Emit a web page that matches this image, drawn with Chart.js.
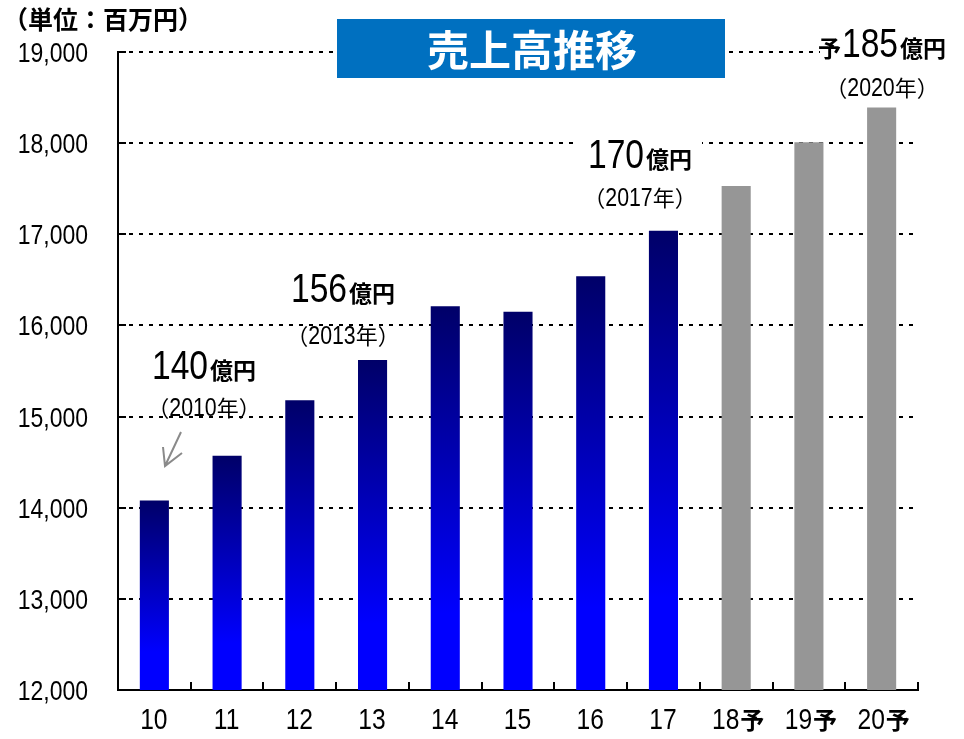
<!DOCTYPE html>
<html>
<head>
<meta charset="utf-8">
<script src="https://cdn.jsdelivr.net/npm/chart.js@4/dist/chart.umd.min.js"></script>
<style>
  html, body { margin: 0; padding: 0; background: #fff; }
  #wrap { width: 964px; height: 739px; }
</style>
</head>
<body>
<div id="wrap"><canvas id="salesChart" width="964" height="739"></canvas></div>
<script>
const labels = ["10", "11", "12", "13", "14", "15", "16", "17", "18予", "19予", "20予"]
const sales = [14080, 14570, 15180, 15620, 16210, 16150, 16540, 17040, 17530, 18010, 18390]
const yTicks = [12000, 13000, 14000, 15000, 16000, 17000, 18000, 19000]

const SANS = "'Liberation Sans', Arial, sans-serif"
const CJK = "'Noto Sans CJK JP', sans-serif"
const SQUEEZE = 0.82

// call-outs: big number + 億円, year below (baseline / centre in px)
const notes = [
    {pre: "", num: "140", year: "2010", x: 204, base: 379, yy: 407},
    {pre: "", num: "156", year: "2013", x: 343, base: 302, yy: 335},
    {pre: "", num: "170", year: "2017", x: 640, base: 168, yy: 197, bg: true},
    {pre: "予", num: "185", year: "2020", x: 882, base: 57, yy: 87, bg: true},
]

// draw a row of text pieces centred at cx; narrow pieces are squeezed horizontally
function drawRuns(c, runs, cx, y, align) {
    let total = 0
    runs.forEach(r => {
        c.font = r.font
        r.w = c.measureText(r.t).width * (r.narrow ? SQUEEZE : 1) + (r.gap || 0)
        total += r.w
    })
    let x = align === 'right' ? cx - total : cx - total / 2
    runs.forEach(r => {
        c.save()
        c.font = r.font
        c.textAlign = 'left'
        c.translate(x, y)
        if (r.narrow) c.scale(SQUEEZE, 1)
        c.fillText(r.t, 0, 0)
        c.restore()
        x += r.w
    })
    return total
}

function barColor(ctx) {
    if (ctx.type !== 'data') return '#000080'
    if (labels[ctx.dataIndex].endsWith('予')) return '#969696'
    const chart = ctx.chart
    const area = chart.chartArea
    if (!area || !chart.scales.y) return '#0000c0'
    const top = chart.scales.y.getPixelForValue(ctx.raw)
    const g = chart.ctx.createLinearGradient(0, top, 0, area.bottom)
    g.addColorStop(0, '#000068')
    g.addColorStop(0.8, '#0000ff')
    g.addColorStop(1, '#0000ff')
    return g
}

const decor = {
    id: 'decor',
    afterDatasetsDraw(chart) {
        const c = chart.ctx
        const {left, right, bottom} = chart.chartArea
        const xs = chart.scales.x, ys = chart.scales.y
        c.save()
        // inward ticks
        c.strokeStyle = '#000'
        c.lineWidth = 2
        c.beginPath()
        ys.ticks.forEach(t => {
            const y = Math.round(ys.getPixelForValue(t.value))
            c.moveTo(left, y); c.lineTo(left + 8, y)
        })
        const step = (right - left) / labels.length
        for (let i = 1; i <= labels.length; i++) {
            const x = Math.round(left + step * i)
            c.moveTo(x, bottom); c.lineTo(x, bottom - 8)
        }
        c.stroke()

        // tick labels (narrow face like the original)
        c.fillStyle = '#000'
        c.textBaseline = 'alphabetic'
        ys.ticks.forEach(t => {
            const y = ys.getPixelForValue(t.value)
            drawRuns(c, [{t: t.value.toLocaleString('en-US'), font: "28px " + SANS, narrow: true}], 88, y + 10, 'right')
        })
        labels.forEach((lab, i) => {
            const x = xs.getPixelForValue(i)
            const runs = [{t: lab.replace('予', ''), font: "30px " + SANS, narrow: true, gap: 1}]
            if (lab.endsWith('予')) runs.push({t: '予', font: "bold 24px " + CJK})
            drawRuns(c, runs, x + (lab.endsWith('予') ? 2 : 0), 729)
        })

        // title box
        c.fillStyle = '#0070c0'
        c.fillRect(337, 19, 388, 59)
        c.fillStyle = '#fff'
        c.font = "bold 42px " + CJK
        c.textAlign = 'center'
        c.textBaseline = 'middle'
        c.fillText('売上高推移', 532, 50)

        // unit
        c.fillStyle = '#000'
        c.textAlign = 'left'
        c.font = "bold 25px " + CJK
        c.fillText('（単位：百万円）', 3, 19)

        // call-outs
        c.textBaseline = 'alphabetic'
        notes.forEach(n => {
            const runs = []
            if (n.pre) runs.push({t: n.pre, font: "bold 23px " + CJK, gap: 1})
            runs.push({t: n.num, font: "41px " + SANS, narrow: true, gap: 2})
            runs.push({t: '億円', font: "bold 23px " + CJK})
            if (n.bg) {
                c.fillStyle = '#fff'
                c.fillRect(n.x - 62, n.base - 32, 124, 38)
            }
            c.fillStyle = '#000'
            drawRuns(c, runs, n.x, n.base)
            drawRuns(c, [
                {t: '（', font: "22px " + CJK},
                {t: n.year, font: "26px " + SANS, narrow: true},
                {t: '年）', font: "22px " + CJK},
            ], n.x, n.yy + 9)
        })

        // arrow
        c.strokeStyle = '#8a8a8a'
        c.lineWidth = 2
        c.beginPath()
        c.moveTo(181, 432); c.lineTo(165, 466)
        c.moveTo(163, 447); c.lineTo(165, 466); c.lineTo(182, 453)
        c.stroke()
        c.restore()
    }
}

const canvas = document.getElementById('salesChart')
const salesChart = new Chart(canvas.getContext('2d'), {
    type: 'bar',
    data: {
        labels: labels,
        datasets: [{
            data: sales,
            backgroundColor: barColor,
            borderWidth: 0,
            barPercentage: 0.4,
            categoryPercentage: 1.0,
        }]
    },
    options: {
        responsive: false,
        animation: false,
        layout: {padding: {top: 52, right: 46, left: 0, bottom: 0}},
        plugins: {
            legend: {display: false},
            tooltip: {enabled: false},
        },
        scales: {
            x: {
                grid: {display: false, drawTicks: false},
                border: {display: true, color: '#000', width: 2},
                ticks: {display: false},
                afterFit: s => { s.height = 49 },
            },
            y: {
                min: 12000,
                max: 19000,
                afterBuildTicks: s => { s.ticks = yTicks.map(v => ({value: v})) },
                grid: {
                    drawTicks: false,
                    lineWidth: 2,
                    color: c => c.tick && c.tick.value === 12000 ? 'rgba(0,0,0,0)' : '#000',
                },
                border: {display: true, color: '#000', width: 2, dash: [4, 6]},
                ticks: {display: false},
                afterFit: s => { s.width = 118 },
            }
        }
    },
    plugins: [decor]
})
</script>
</body>
</html>
